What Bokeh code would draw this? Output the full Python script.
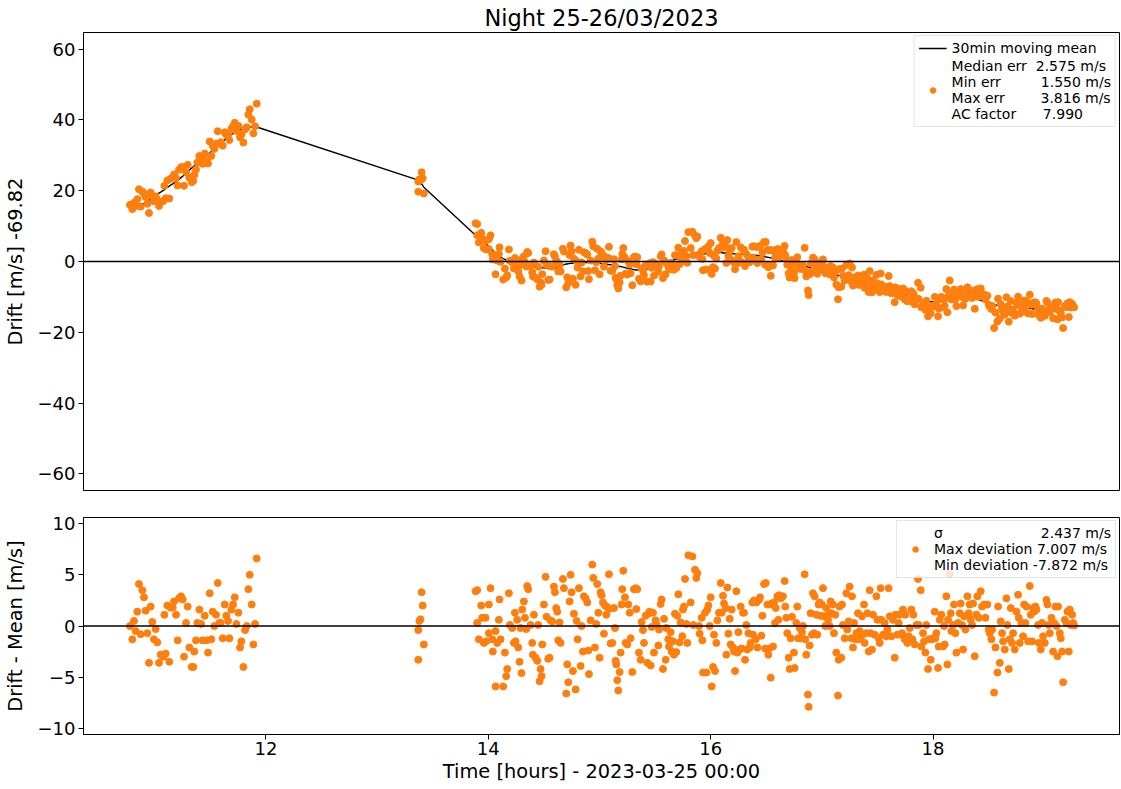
import numpy as np
from bokeh.plotting import figure
from bokeh.models import (Range1d, FixedTicker, Span, Legend, LegendItem,
                          CustomJSTickFormatter)
from bokeh.layouts import column
from bokeh.embed import file_html
from bokeh.resources import INLINE

# ---------------- data ----------------
title_text = "Night 25-26/03/2023"
ylabel_top = "Drift [m/s] -69.82"
ylabel_bottom = "Drift - Mean [m/s]"
xlabel = "Time [hours] - 2023-03-25 00:00"

stats_top = ["Median err  2.575 m/s", "Min err         1.550 m/s",
             "Max err        3.816 m/s", "AC factor      7.990"]
stats_bottom = ["\u03c3" + " " * 22 + "2.437 m/s", "Max deviation 7.007 m/s",
                "Min deviation -7.872 m/s"]
mean_label = "30min moving mean"

x_ticks = [12, 14, 16, 18]
y_ticks_top = [-60, -40, -20, 0, 20, 40, 60]
y_ticks_bottom = [-10, -5, 0, 5, 10]

# segment 1 (10.8 h - 11.9 h)
seg1_time = [10.777, 10.798, 10.813, 10.828, 10.843, 10.858, 10.873, 10.888, 10.903, 10.918,
             10.933, 10.948, 10.963, 10.978, 10.993, 11.008, 11.023, 11.038, 11.053, 11.077,
             11.086, 11.098, 11.113, 11.131, 11.143, 11.161, 11.173, 11.191, 11.206, 11.218,
             11.236, 11.251, 11.263, 11.281, 11.296, 11.311, 11.332, 11.347, 11.356, 11.371,
             11.383, 11.401, 11.416, 11.431, 11.449, 11.467, 11.479, 11.494, 11.509, 11.521,
             11.536, 11.551, 11.566, 11.581, 11.593, 11.611, 11.629, 11.644, 11.659, 11.671,
             11.689, 11.704, 11.719, 11.734, 11.752, 11.767, 11.779, 11.797, 11.812, 11.827,
             11.842, 11.854, 11.872, 11.887, 11.902, 11.917]
seg1_mean = [16.0, 16.1, 16.1, 16.2, 16.2, 16.3, 16.3, 16.3, 16.4, 16.7,
             17.0, 17.3, 17.6, 18.0, 18.3, 18.7, 19.0, 19.3, 19.6, 20.1,
             20.3, 20.6, 20.9, 21.3, 21.6, 21.9, 22.2, 22.5, 22.9, 23.2,
             23.7, 24.1, 24.4, 24.9, 25.4, 25.8, 26.4, 26.8, 27.0, 27.4,
             27.7, 28.2, 28.6, 29.0, 29.5, 30.0, 30.3, 30.7, 31.1, 31.4,
             31.8, 32.2, 32.6, 33.0, 33.4, 33.9, 34.4, 34.8, 35.2, 35.5,
             35.9, 36.1, 36.4, 36.7, 37.0, 37.2, 37.4, 37.6, 37.8, 37.9,
             37.9, 38.0, 38.0, 38.0, 38.0, 38.0]
seg1_resid = [0.0, -1.3, 0.5, -0.5, 1.4, 4.1, -0.8, 3.5, 2.8, 1.5,
              -0.7, -3.6, 1.9, 0.4, -1.3, -0.3, -1.6, -3.6, -2.8, -3.0,
              1.1, -2.7, 2.0, -3.5, 1.8, 1.8, 2.4, 1.1, -1.4, 2.7,
              2.9, 2.6, -3.0, 0.3, 1.9, -2.1, -4.0, -4.0, -2.5, -1.4,
              0.3, 1.6, 0.2, -1.4, 1.0, -1.4, -2.6, 3.2, -1.3, 1.4,
              0.0, 1.1, 4.2, 0.3, 0.3, -1.2, 2.1, 1.0, 0.5, -1.2,
              1.6, 2.1, 2.8, 0.2, 1.3, -2.1, -1.5, -4.0, -0.4, 0.0,
              3.6, 5.0, 2.1, -1.8, 0.2, 6.6]

# segment 2 (around 13.4 h)
seg2_time = [13.37, 13.37, 13.38, 13.39, 13.40, 13.41, 13.42]
seg2_mean = [23.0, 23.0, 22.7, 22.3, 21.9, 21.5, 21.0]
seg2_resid = [-3.3, -0.4, 0.5, 0.65, 3.3, 2.0, -1.8]

# segment 3a (13.9 h - 16.6 h)
seg3a_time = [13.885, 13.900, 13.900, 13.915, 13.936, 13.945, 13.960, 13.975, 13.981, 14.005,
              14.005, 14.020, 14.035, 14.041, 14.065, 14.065, 14.080, 14.095, 14.101, 14.110,
              14.134, 14.149, 14.161, 14.170, 14.185, 14.194, 14.215, 14.230, 14.239, 14.245,
              14.260, 14.269, 14.281, 14.290, 14.299, 14.305, 14.320, 14.329, 14.341, 14.350,
              14.359, 14.380, 14.395, 14.401, 14.410, 14.425, 14.440, 14.449, 14.461, 14.470,
              14.479, 14.485, 14.500, 14.515, 14.524, 14.539, 14.551, 14.560, 14.575, 14.590,
              14.599, 14.611, 14.620, 14.629, 14.641, 14.650, 14.671, 14.680, 14.701, 14.710,
              14.719, 14.731, 14.740, 14.749, 14.761, 14.770, 14.785, 14.794, 14.803, 14.815,
              14.830, 14.839, 14.851, 14.860, 14.875, 14.890, 14.899, 14.905, 14.920, 14.935,
              14.944, 14.959, 14.971, 14.980, 14.989, 15.001, 15.010, 15.019, 15.031, 15.040,
              15.049, 15.061, 15.070, 15.085, 15.091, 15.100, 15.115, 15.130, 15.139, 15.145,
              15.151, 15.160, 15.169, 15.181, 15.190, 15.199, 15.205, 15.214, 15.229, 15.235,
              15.250, 15.259, 15.271, 15.280, 15.295, 15.310, 15.325, 15.331, 15.340, 15.355,
              15.370, 15.379, 15.391, 15.400, 15.415, 15.430, 15.439, 15.451, 15.460, 15.469,
              15.481, 15.490, 15.505, 15.511, 15.529, 15.535, 15.550, 15.559, 15.571, 15.580,
              15.595, 15.601, 15.619, 15.625, 15.640, 15.649, 15.661, 15.670, 15.679, 15.691,
              15.700, 15.709, 15.721, 15.730, 15.745, 15.751, 15.760, 15.769, 15.781, 15.790,
              15.799, 15.820, 15.835, 15.844, 15.859, 15.871, 15.880, 15.895, 15.901, 15.919,
              15.925, 15.931, 15.949, 15.961, 15.970, 15.979, 15.991, 16.000, 16.009, 16.021,
              16.030, 16.039, 16.051, 16.060, 16.075, 16.090, 16.099, 16.111, 16.120, 16.135,
              16.141, 16.150, 16.159, 16.171, 16.180, 16.189, 16.201, 16.210, 16.219, 16.231,
              16.240, 16.249, 16.261, 16.270, 16.279, 16.291, 16.300, 16.309, 16.321, 16.330,
              16.339, 16.351, 16.360, 16.375, 16.381, 16.390, 16.405, 16.411, 16.420, 16.435,
              16.444, 16.456, 16.465, 16.480, 16.489, 16.495, 16.510, 16.519, 16.525, 16.531,
              16.540, 16.549, 16.561, 16.570, 16.579, 16.585, 16.600, 16.609, 16.615, 16.630]
seg3a_mean = [7.4, 7.1, 7.1, 6.7, 6.1, 5.8, 5.4, 5.0, 4.9, 4.2,
              4.2, 3.7, 3.3, 3.1, 2.3, 2.3, 1.9, 1.5, 1.4, 1.2,
              0.8, 0.6, 0.4, 0.3, 0.2, 0.1, -0.1, -0.3, -0.3, -0.4,
              -0.5, -0.6, -0.7, -0.7, -0.8, -0.8, -0.9, -1.0, -1.1, -1.2,
              -1.2, -1.3, -1.4, -1.4, -1.4, -1.5, -1.6, -1.6, -1.7, -1.7,
              -1.7, -1.8, -1.8, -1.9, -1.9, -2.0, -2.0, -1.9, -1.9, -1.8,
              -1.8, -1.6, -1.5, -1.4, -1.3, -1.2, -1.0, -0.9, -0.7, -0.7,
              -0.6, -0.6, -0.5, -0.5, -0.5, -0.4, -0.4, -0.4, -0.4, -0.4,
              -0.3, -0.3, -0.3, -0.3, -0.3, -0.3, -0.3, -0.3, -0.3, -0.4,
              -0.4, -0.4, -0.4, -0.5, -0.5, -0.5, -0.5, -0.6, -0.6, -0.7,
              -0.7, -0.7, -0.8, -0.9, -0.9, -0.9, -1.0, -1.1, -1.1, -1.2,
              -1.2, -1.3, -1.3, -1.4, -1.4, -1.5, -1.5, -1.6, -1.7, -1.8,
              -1.9, -2.0, -2.1, -2.1, -2.2, -2.3, -2.4, -2.4, -2.4, -2.3,
              -2.3, -2.3, -2.2, -2.2, -2.1, -2.1, -2.0, -1.9, -1.8, -1.7,
              -1.5, -1.4, -1.2, -1.2, -1.0, -0.9, -0.7, -0.6, -0.5, -0.4,
              -0.3, -0.2, 0.0, 0.0, 0.2, 0.3, 0.4, 0.5, 0.6, 0.7,
              0.7, 0.8, 0.9, 0.9, 1.0, 1.1, 1.1, 1.2, 1.3, 1.3,
              1.4, 1.5, 1.6, 1.7, 1.8, 1.9, 1.9, 2.0, 2.0, 2.1,
              2.1, 2.1, 2.2, 2.3, 2.3, 2.3, 2.4, 2.4, 2.4, 2.4,
              2.4, 2.4, 2.5, 2.5, 2.5, 2.5, 2.5, 2.4, 2.4, 2.4,
              2.4, 2.3, 2.3, 2.3, 2.3, 2.2, 2.2, 2.2, 2.2, 2.1,
              2.1, 2.1, 2.1, 2.1, 2.0, 2.0, 2.0, 2.0, 2.0, 2.0,
              2.0, 1.9, 1.9, 1.9, 1.9, 1.8, 1.8, 1.8, 1.7, 1.6,
              1.6, 1.5, 1.5, 1.4, 1.3, 1.3, 1.2, 1.2, 1.1, 1.1,
              1.0, 1.0, 0.9, 0.8, 0.8, 0.7, 0.6, 0.5, 0.4, 0.3]
seg3a_resid = [3.4, 3.5, 0.3, -1.3, 2.0, 0.8, -1.65, 0.8, -1.5, 2.1,
               -0.7, 3.7, -1.3, -2.5, -5.9, -0.5, -1.65, 0.6, 2.6, -1.3,
               -5.9, -2.6, -4.9, -4.2, 3.2, 0.1, -0.2, -1.65, 1.3, -1.5,
               0.6, -2.1, -3.5, -0.2, -4.6, 1.6, 2.4, 0.8, -0.3, 3.9,
               3.6, 0.1, -1.65, -2.8, 1.1, -3.1, -3.4, 0.1, -5.4, -4.2,
               -4.9, -1.8, 2.1, 4.8, 0.9, -3.2, -3.1, 0.55, 0.45, 3.85,
               3.3, 1.75, 1.4, -1.4, 0.35, -1.65, 4.6, 3.7, -6.6, -3.75,
               -5.5, 2.4, 5.0, 3.3, -4.4, 1.2, -6.2, 0.5, -1.3, 3.7,
               -3.9, 0.0, -2.5, 2.9, 2.7, 2.3, -2.4, -4.7, 0.55, 6.0,
               4.7, -2.1, 0.2, 4.1, 1.3, -3.1, 3.3, 3.0, 2.3, -0.75,
               2.0, 1.1, 1.85, 5.05, 1.7, -1.7, -1.65, 1.75, -0.2, -3.4,
               -3.75, -5.3, -6.3, -4.5, -2.6, 2.1, 3.6, 5.4, 2.8, -1.65,
               -1.8, 2.1, 1.3, -1.2, -4.5, 3.6, 3.7, 1.65, 3.6, -2.6,
               -3.3, 0.4, -0.4, -1.65, 1.0, -3.6, 1.2, 1.4, -3.85, -0.1,
               1.3, -2.6, 0.55, 0.2, -1.9, -0.35, 2.15, 2.6, -4.2, 0.7,
               -3.3, -0.2, -1.3, -2.0, -0.6, -2.5, -1.5, -2.8, 1.2, -2.55,
               1.0, 3.1, -1.6, 0.35, -1.0, 1.6, 1.9, 4.6, 0.2, -1.65,
               6.9, 2.3, 6.8, 0.1, 5.5, 4.7, 5.15, 0.0, -0.75, 0.8,
               -1.4, -4.55, 1.3, -4.55, 1.6, 2.0, 0.0, 2.8, -5.9, -4.0,
               -0.85, -4.4, -1.65, 0.55, 1.3, 4.2, 1.3, 2.95, 2.2, 1.75,
               -2.8, 3.75, -0.75, 0.7, -1.8, 1.6, -2.1, -2.5, -4.4, 3.4,
               -2.6, -0.6, -2.3, 1.9, -2.2, 1.3, 1.3, -3.3, 0.1, -2.3,
               -0.7, -2.1, -1.65, 2.3, -0.85, 2.5, -1.3, 2.3, -2.1, 2.55,
               2.8, -0.95, 1.0, 4.1, -2.2, 4.2, 2.1, -2.8, -2.2, 2.1,
               -5.05, 2.2, -2.0, 2.3, 0.3, 1.75, 2.9, 0.6, 3.0, 2.7]

# segment 3b (16.65 h - 19.27 h)
seg3b_time = [16.650, 16.665, 16.671, 16.680, 16.689, 16.701, 16.710, 16.719, 16.731, 16.749,
              16.755, 16.770, 16.779, 16.785, 16.800, 16.809, 16.821, 16.830, 16.845, 16.851,
              16.860, 16.875, 16.881, 16.890, 16.899, 16.911, 16.920, 16.929, 16.935, 16.950,
              16.959, 16.971, 16.980, 16.989, 17.001, 17.010, 17.019, 17.031, 17.040, 17.055,
              17.061, 17.070, 17.079, 17.085, 17.100, 17.109, 17.121, 17.130, 17.145, 17.151,
              17.160, 17.175, 17.181, 17.190, 17.205, 17.220, 17.229, 17.241, 17.250, 17.265,
              17.271, 17.280, 17.289, 17.301, 17.310, 17.325, 17.331, 17.340, 17.355, 17.361,
              17.379, 17.385, 17.400, 17.409, 17.421, 17.430, 17.439, 17.451, 17.460, 17.475,
              17.490, 17.499, 17.511, 17.520, 17.529, 17.535, 17.550, 17.565, 17.580, 17.589,
              17.601, 17.610, 17.625, 17.640, 17.655, 17.661, 17.679, 17.691, 17.700, 17.709,
              17.721, 17.730, 17.745, 17.751, 17.769, 17.781, 17.790, 17.805, 17.814, 17.823,
              17.835, 17.850, 17.865, 17.871, 17.889, 17.895, 17.910, 17.919, 17.931, 17.940,
              17.955, 17.964, 17.979, 17.991, 18.000, 18.015, 18.021, 18.030, 18.045, 18.051,
              18.060, 18.075, 18.090, 18.099, 18.105, 18.120, 18.129, 18.135, 18.150, 18.159,
              18.165, 18.180, 18.189, 18.201, 18.210, 18.225, 18.240, 18.249, 18.261, 18.270,
              18.279, 18.291, 18.309, 18.321, 18.330, 18.339, 18.351, 18.360, 18.375, 18.390,
              18.399, 18.411, 18.429, 18.441, 18.459, 18.471, 18.489, 18.501, 18.510, 18.525,
              18.531, 18.549, 18.561, 18.579, 18.585, 18.600, 18.609, 18.621, 18.630, 18.645,
              18.660, 18.669, 18.681, 18.690, 18.699, 18.711, 18.720, 18.735, 18.750, 18.765,
              18.771, 18.780, 18.795, 18.810, 18.819, 18.831, 18.840, 18.855, 18.870, 18.879,
              18.891, 18.900, 18.909, 18.921, 18.930, 18.945, 18.951, 18.969, 18.981, 18.990,
              19.005, 19.020, 19.029, 19.041, 19.050, 19.065, 19.080, 19.089, 19.101, 19.110,
              19.119, 19.125, 19.140, 19.149, 19.161, 19.170, 19.185, 19.200, 19.209, 19.221,
              19.230, 19.239, 19.251, 19.260, 19.269]
seg3b_mean = [0.1, 0.0, -0.1, -0.1, -0.2, -0.3, -0.3, -0.4, -0.5, -0.6,
              -0.6, -0.7, -0.7, -0.8, -0.9, -0.9, -1.0, -1.1, -1.2, -1.3,
              -1.4, -1.5, -1.6, -1.7, -1.8, -2.0, -2.1, -2.2, -2.3, -2.5,
              -2.6, -2.7, -2.8, -2.9, -3.0, -3.1, -3.2, -3.3, -3.4, -3.5,
              -3.6, -3.6, -3.7, -3.8, -3.8, -3.8, -3.9, -3.9, -3.9, -4.0,
              -4.0, -4.0, -4.1, -4.1, -4.2, -4.2, -4.2, -4.3, -4.4, -4.5,
              -4.6, -4.7, -4.8, -4.9, -5.0, -5.2, -5.3, -5.4, -5.6, -5.6,
              -5.8, -5.8, -5.9, -6.0, -6.1, -6.2, -6.3, -6.4, -6.5, -6.6,
              -6.7, -6.8, -6.9, -7.0, -7.1, -7.1, -7.3, -7.4, -7.6, -7.7,
              -7.8, -7.9, -8.0, -8.2, -8.4, -8.4, -8.6, -8.8, -8.9, -9.0,
              -9.1, -9.2, -9.4, -9.4, -9.6, -9.8, -9.9, -10.0, -10.1, -10.2,
              -10.3, -10.5, -10.6, -10.7, -10.9, -10.9, -11.0, -11.1, -11.1, -11.2,
              -11.3, -11.3, -11.3, -11.4, -11.4, -11.4, -11.4, -11.4, -11.4, -11.3,
              -11.2, -11.1, -11.0, -10.9, -10.8, -10.7, -10.6, -10.5, -10.4, -10.3,
              -10.2, -10.1, -10.0, -10.0, -10.0, -10.0, -10.0, -10.0, -10.1, -10.1,
              -10.1, -10.2, -10.2, -10.3, -10.3, -10.3, -10.4, -10.4, -10.4, -10.6,
              -10.7, -10.8, -11.0, -11.1, -11.4, -11.5, -11.8, -11.9, -12.0, -12.1,
              -12.2, -12.3, -12.3, -12.4, -12.4, -12.5, -12.5, -12.6, -12.6, -12.7,
              -12.8, -12.8, -12.8, -12.8, -12.9, -12.9, -12.9, -13.0, -13.0, -13.0,
              -13.0, -13.1, -13.1, -13.1, -13.1, -13.2, -13.2, -13.2, -13.3, -13.3,
              -13.3, -13.4, -13.4, -13.4, -13.5, -13.5, -13.5, -13.6, -13.6, -13.6,
              -13.7, -13.7, -13.7, -13.7, -13.6, -13.6, -13.5, -13.5, -13.5, -13.4,
              -13.4, -13.4, -13.3, -13.3, -13.3, -13.3, -13.2, -13.2, -13.2, -13.2,
              -13.1, -13.1, -13.1, -13.0, -13.0]
seg3b_resid = [2.9, 4.4, 1.9, 0.8, -0.7, -3.1, -4.2, -1.2, 0.9, -2.6,
               -4.1, 0.3, 1.9, -1.2, -0.2, -1.2, -0.6, 0.0, 5.05, -1.3,
               -2.8, -6.7, -7.9, -1.9, 1.25, -0.85, 3.2, -0.7, 2.9, 1.1,
               -0.85, 2.1, 2.3, 1.0, 2.1, 3.7, 0.95, 0.0, 1.75, 0.6,
               1.1, 0.0, 2.4, 1.25, 2.1, -0.7, 1.1, -2.6, -6.8, -3.3,
               1.9, -3.1, 2.1, 0.1, -1.2, 3.2, -0.35, 0.45, 3.85, -1.2,
               2.9, -2.1, 0.3, -1.3, -0.7, 1.25, -1.3, -0.5, -1.0, 0.95,
               2.1, -1.65, -0.7, 1.25, -2.5, 3.5, -0.7, -2.3, 1.1, -0.85,
               2.9, 0.6, -1.2, -1.65, 3.7, 0.6, -0.85, 0.3, -1.0, -0.35,
               3.7, 0.95, -1.0, 0.6, -3.1, 1.1, -0.85, 0.3, 1.1, -0.85,
               -0.7, 1.6, -1.3, 1.1, -1.65, -1.0, -0.2, 1.6, -1.3, 1.1,
               -1.8, 0.1, 4.6, 0.1, 3.5, -2.0, -0.7, -1.5, -2.6, 0.1,
               -4.2, -1.3, -3.3, -1.3, -1.2, 1.4, -1.2, -0.7, -4.1, -2.0,
               0.6, 1.1, -2.0, 0.0, -1.8, 2.9, -3.75, 0.6, 5.05, 1.25,
               -0.5, 0.1, 2.1, -0.7, -2.6, 0.3, 1.25, 2.2, 0.1, -2.3,
               0.95, -0.35, 2.9, 1.25, 2.1, 0.6, 0.1, 2.2, -2.95, 1.1,
               2.9, 0.8, 3.4, 1.9, 2.1, 0.8, 2.1, -0.35, -0.7, -1.3,
               -0.35, -6.5, -2.1, -4.55, 1.9, -3.6, 0.45, -0.7, -1.5, -2.3,
               2.7, 0.1, -4.2, -1.3, 1.75, -1.65, -0.7, -2.3, 1.4, 3.05,
               0.8, -1.65, 0.3, -1.0, 2.1, 0.3, 1.9, -1.5, 3.9, 1.1,
               -1.5, 1.75, 1.4, 1.9, 1.6, 0.1, -1.65, -2.3, 0.3, -1.0,
               -1.65, 2.55, 2.1, 0.1, -0.7, 0.8, -2.5, 0.3, 1.9, 0.0,
               -2.95, 1.9, -0.7, -1.2, -2.5, -5.5, 0.6, 0.3, 1.4, -2.5,
               1.6, 0.1, 1.1, 0.3, 0.05]

# ---------------- assemble ----------------
time_h = np.array(seg1_time + seg2_time + seg3a_time + seg3b_time)
moving_mean = np.array(seg1_mean + seg2_mean + seg3a_mean + seg3b_mean)
residual = np.array(seg1_resid + seg2_resid + seg3a_resid + seg3b_resid)
drift = moving_mean + residual

FONT = "DejaVu Sans"
ORANGE = "#ff7f0e"
minus_fmt = "return tick < 0 ? '\u2212' + (-tick) : String(tick);"

x_range = Range1d(10.359, 19.677)


def style(p, yticks, ylabel):
    p.xgrid.visible = False
    p.ygrid.visible = False
    p.outline_line_color = "black"
    p.outline_line_alpha = 1.0
    p.outline_line_width = 1
    p.background_fill_color = "white"
    p.border_fill_color = "white"
    for ax in list(p.xaxis) + list(p.yaxis):
        ax.major_label_text_font = FONT
        ax.major_label_text_font_size = "18px"
        ax.major_label_text_color = "black"
        ax.axis_label_text_font = FONT
        ax.axis_label_text_font_size = "19.4px"
        ax.axis_label_text_font_style = "normal"
        ax.axis_label_text_color = "black"
        ax.major_tick_out = 5
        ax.major_tick_in = 0
        ax.minor_tick_out = 0
        ax.minor_tick_in = 0
        ax.minor_tick_line_color = None
        ax.major_tick_line_color = "black"
        ax.axis_line_color = "black"
        ax.major_label_standoff = 3
        ax.formatter = CustomJSTickFormatter(code=minus_fmt)
    p.xaxis.ticker = FixedTicker(ticks=x_ticks)
    p.yaxis.ticker = FixedTicker(ticks=yticks)
    p.yaxis.axis_label = ylabel
    p.yaxis.axis_label_standoff = 8


FRAME_W = 1036

# ---------------- top panel ----------------
p1 = figure(frame_width=FRAME_W, frame_height=458, x_range=x_range,
            y_range=Range1d(-64.7, 64.7), output_backend="svg",
            toolbar_location=None, min_border_left=72, min_border_right=1,
            min_border_top=27, min_border_bottom=13, title=title_text)
style(p1, y_ticks_top, ylabel_top)
p1.xaxis.visible = False
p1.title.text_font = FONT
p1.title.text_font_size = "22.5px"
p1.title.text_font_style = "normal"
p1.title.text_color = "black"
p1.title.align = "center"
p1.title.standoff = 4

p1.add_layout(Span(location=0, dimension="width", line_color="black", line_width=1.5))
r_line = p1.line(time_h, moving_mean, line_color="black", line_width=1.4)
r_pts = p1.scatter(time_h, drift, size=7, fill_color=ORANGE, line_color=ORANGE)

leg1 = Legend(items=[LegendItem(label=mean_label, renderers=[r_line]),
                     LegendItem(label="\n".join(stats_top), renderers=[r_pts])],
              location="top_right")
p1.add_layout(leg1)

# ---------------- bottom panel ----------------
p2 = figure(frame_width=FRAME_W, frame_height=217, x_range=x_range,
            y_range=Range1d(-10.6, 10.6), output_backend="svg",
            toolbar_location=None, min_border_left=72, min_border_right=1,
            min_border_top=14, min_border_bottom=8)
style(p2, y_ticks_bottom, ylabel_bottom)
p2.xaxis.axis_label = xlabel
p2.xaxis.axis_label_standoff = 2
p2.xaxis.major_label_standoff = 2
p2.add_layout(Span(location=0, dimension="width", line_color="black", line_width=1.5))
r_res = p2.scatter(time_h, residual, size=7, fill_color=ORANGE, line_color=ORANGE)
leg2 = Legend(items=[LegendItem(label="\n".join(stats_bottom), renderers=[r_res])],
              location="top_right")
p2.add_layout(leg2)

for lg in (leg1, leg2):
    lg.label_text_font = FONT
    lg.label_text_font_size = "14px"
    lg.label_text_color = "black"
    lg.glyph_width = 28
    lg.glyph_height = 14
    lg.label_height = 14
    lg.spacing = 2
    lg.padding = 4
    lg.margin = 3
    lg.label_standoff = 5
    lg.border_line_color = "#cccccc"
    lg.border_line_width = 1
    lg.background_fill_alpha = 0.8

layout = column(p1, p2)
open("out.html", "w").write(file_html(layout, INLINE))
